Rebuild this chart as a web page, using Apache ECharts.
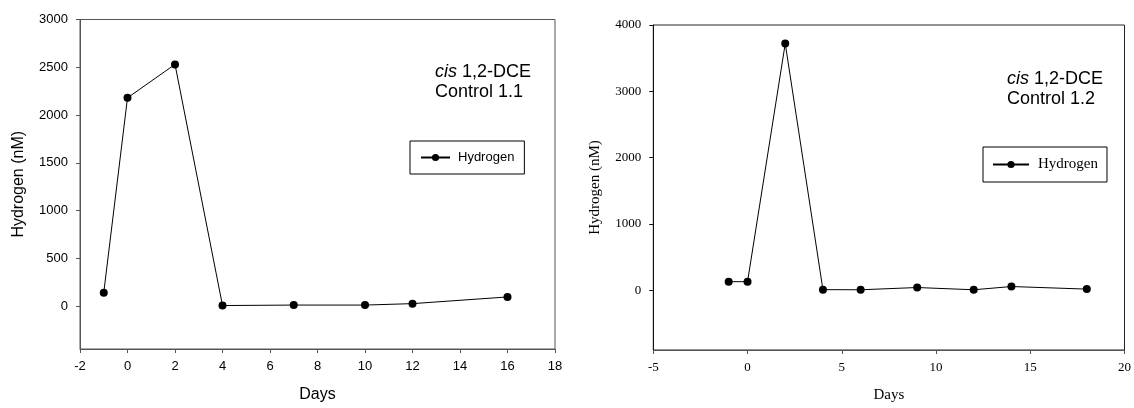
<!DOCTYPE html>
<html>
<head>
<meta charset="utf-8">
<script src="https://cdn.jsdelivr.net/npm/echarts@6/dist/echarts.min.js"></script>
<style>
html,body{margin:0;padding:0;background:#fff;}
#c{width:1134px;height:408px;}
</style>
</head>
<body>
<div id="c"></div>
<script>
// ---- Data ----
const days1 = [-1, 0, 2, 4, 7, 10, 12, 16];
const hydrogen1 = [140, 2180, 2530, 5, 10, 10, 25, 95];
const days2 = [-1, 0, 2, 4, 6, 9, 12, 14, 18];
const hydrogen2 = [130, 130, 3720, 10, 8, 42, 8, 57, 18];
const yTicks1 = [0, 500, 1000, 1500, 2000, 2500, 3000];
const yTicks2 = [0, 1000, 2000, 3000, 4000];
const seriesName = 'Hydrogen';
const label1 = ['cis', ' 1,2-DCE', 'Control 1.1'];
const label2 = ['cis', ' 1,2-DCE', 'Control 1.2'];

const SANS = "'Liberation Sans', Arial, sans-serif";
const SERIF = "'Liberation Serif', 'Times New Roman', serif";

const chart = echarts.init(document.getElementById('c'), null, {renderer: 'canvas'});

function pairs(xs, ys) { return xs.map((x, i) => [x, ys[i]]); }
const plain = v => String(v);

const option = {
  animation: false,
  backgroundColor: '#fff',
  title: [
    {
      text: '{i|' + label1[0] + '}' + label1[1] + '\n' + label1[2],
      left: 435, top: 62, padding: 0,
      textStyle: {fontFamily: SANS, fontSize: 18, fontWeight: 'normal', color: '#000', lineHeight: 20,
        rich: {i: {fontFamily: SANS, fontSize: 18, fontStyle: 'italic', color: '#000', lineHeight: 20}}}
    },
    {
      text: '{i|' + label2[0] + '}' + label2[1] + '\n' + label2[2],
      left: 1007, top: 69, padding: 0,
      textStyle: {fontFamily: SANS, fontSize: 18, fontWeight: 'normal', color: '#000', lineHeight: 20,
        rich: {i: {fontFamily: SANS, fontSize: 18, fontStyle: 'italic', color: '#000', lineHeight: 20}}}
    }
  ],
  legend: [
    {
      data: [seriesName], left: 410, top: 141, orient: 'horizontal',
      padding: [10, 10, 10, 10], borderColor: '#000', borderWidth: 1, backgroundColor: '#fff',
      itemWidth: 29, itemHeight: 9, selectedMode: false,
      textStyle: {fontFamily: SANS, fontSize: 13, color: '#000', padding: [0, 0, 0, 3]}
    },
    {
      data: [seriesName], left: 983, top: 147, orient: 'horizontal',
      padding: [10, 9, 10, 9], borderColor: '#000', borderWidth: 1, backgroundColor: '#fff',
      itemWidth: 36, itemHeight: 9, selectedMode: false,
      textStyle: {fontFamily: SERIF, fontSize: 15, color: '#000', padding: [0, 0, 0, 4]}
    }
  ],
  grid: [
    {left: 80, top: 19.5, width: 475, height: 333.5, show: true, borderColor: '#555', borderWidth: 1, backgroundColor: 'transparent'},
    {left: 653.3, top: 25, width: 472.2, height: 329, show: true, borderColor: '#222', borderWidth: 1, backgroundColor: 'transparent'}
  ],
  xAxis: [
    {
      gridIndex: 0, type: 'value', min: -2, max: 18, interval: 2,
      name: 'Days', nameLocation: 'middle', nameGap: 38,
      nameTextStyle: {fontFamily: SANS, fontSize: 16, color: '#000'},
      axisLine: {show: true, onZero: false, lineStyle: {color: '#555', width: 1}},
      axisTick: {show: true, inside: false, length: 4, lineStyle: {color: '#555'}},
      axisLabel: {fontFamily: SANS, fontSize: 13, color: '#000', margin: 11, formatter: plain},
      splitLine: {show: false}
    },
    {
      gridIndex: 1, type: 'value', min: -5, max: 20, interval: 5,
      name: 'Days', nameLocation: 'middle', nameGap: 38,
      nameTextStyle: {fontFamily: SERIF, fontSize: 15, color: '#000'},
      axisLine: {show: true, onZero: false, lineStyle: {color: '#555', width: 1}},
      axisTick: {show: true, inside: false, length: 4, lineStyle: {color: '#555'}},
      axisLabel: {fontFamily: SERIF, fontSize: 13, color: '#000', margin: 11, formatter: plain},
      splitLine: {show: false}
    }
  ],
  yAxis: [
    {
      gridIndex: 0, type: 'value', min: -450, max: 3000,
      name: 'Hydrogen (nM)', nameLocation: 'middle', nameGap: 53,
      nameTextStyle: {fontFamily: SANS, fontSize: 16, color: '#000'},
      axisLine: {show: true, onZero: false, lineStyle: {color: '#555', width: 1}},
      axisTick: {show: true, inside: false, length: 4, customValues: yTicks1, lineStyle: {color: '#555'}},
      axisLabel: {fontFamily: SANS, fontSize: 13, color: '#000', margin: 12, customValues: yTicks1, formatter: plain},
      splitLine: {show: false}
    },
    {
      gridIndex: 1, type: 'value', min: -900, max: 4000,
      name: 'Hydrogen (nM)', nameLocation: 'middle', nameGap: 51,
      nameTextStyle: {fontFamily: SERIF, fontSize: 15, color: '#000'},
      axisLine: {show: true, onZero: false, lineStyle: {color: '#111', width: 1}},
      axisTick: {show: true, inside: false, length: 4, customValues: yTicks2, lineStyle: {color: '#111'}},
      axisLabel: {fontFamily: SERIF, fontSize: 13, color: '#000', margin: 12, customValues: yTicks2, formatter: plain},
      splitLine: {show: false}
    }
  ],
  series: [
    {
      name: seriesName, type: 'line', xAxisIndex: 0, yAxisIndex: 0,
      data: pairs(days1, hydrogen1),
      symbol: 'circle', symbolSize: 8, showAllSymbol: true,
      lineStyle: {color: '#000', width: 1},
      itemStyle: {color: '#000', borderWidth: 0}
    },
    {
      name: seriesName, type: 'line', xAxisIndex: 1, yAxisIndex: 1,
      data: pairs(days2, hydrogen2),
      symbol: 'circle', symbolSize: 8, showAllSymbol: true,
      lineStyle: {color: '#000', width: 1},
      itemStyle: {color: '#000', borderWidth: 0}
    }
  ]
};
chart.setOption(option);
</script>
</body>
</html>
